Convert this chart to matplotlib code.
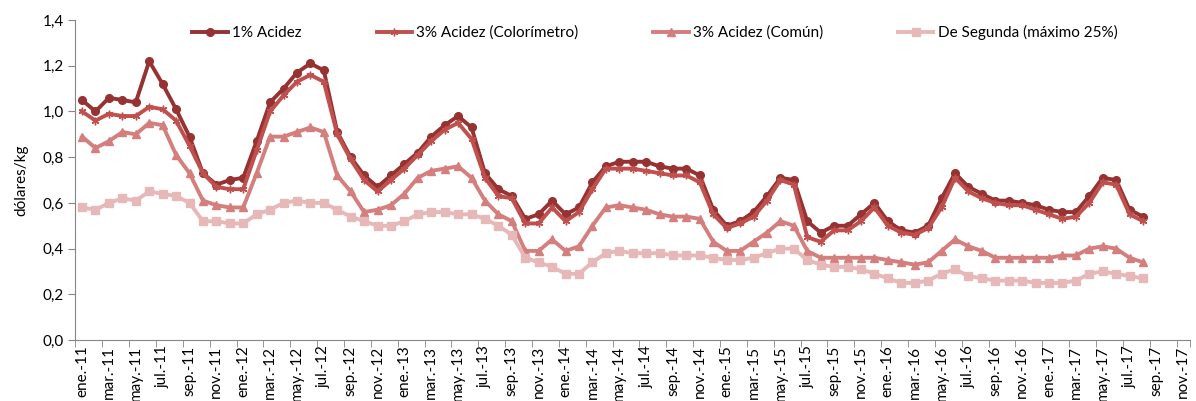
import matplotlib
matplotlib.use("Agg")
import matplotlib.pyplot as plt
from matplotlib.ticker import FuncFormatter, MultipleLocator, FixedLocator

plt.rcParams["font.family"] = ["Lato", "DejaVu Sans"]

# ── data (USD/kg, monthly, ene-2011 .. ago-2017) ──────────────
meses = ["ene.", "feb.", "mar.", "abr.", "may.", "jun.",
         "jul.", "ago.", "sep.", "oct.", "nov.", "dic."]
anios = ["11", "12", "13", "14", "15", "16", "17"]
categorias = [f"{m}-{a}" for a in anios for m in meses][:83]   # axis runs to nov.-17

acidez_1 = [1.05, 1.00, 1.06, 1.05, 1.04, 1.22, 1.12, 1.01, 0.89, 0.73, 0.68, 0.70,
            0.71, 0.87, 1.04, 1.10, 1.17, 1.21, 1.18, 0.91, 0.80, 0.72, 0.67, 0.72,
            0.77, 0.82, 0.89, 0.94, 0.98, 0.93, 0.73, 0.66, 0.63, 0.53, 0.55, 0.61,
            0.55, 0.58, 0.69, 0.76, 0.78, 0.78, 0.78, 0.76, 0.75, 0.75, 0.72, 0.57,
            0.50, 0.52, 0.56, 0.63, 0.71, 0.70, 0.52, 0.47, 0.50, 0.50, 0.55, 0.60,
            0.52, 0.48, 0.47, 0.50, 0.62, 0.73, 0.67, 0.64, 0.61, 0.61, 0.60, 0.59,
            0.57, 0.56, 0.56, 0.63, 0.71, 0.70, 0.57, 0.54]
acidez_3_color = [1.00, 0.96, 0.99, 0.98, 0.98, 1.02, 1.01, 0.96, 0.85, 0.73, 0.67, 0.66,
                  0.66, 0.83, 1.00, 1.07, 1.13, 1.16, 1.13, 0.90, 0.79, 0.70, 0.65, 0.70,
                  0.75, 0.81, 0.87, 0.92, 0.95, 0.88, 0.71, 0.63, 0.62, 0.51, 0.51, 0.58,
                  0.52, 0.56, 0.66, 0.75, 0.75, 0.75, 0.74, 0.73, 0.72, 0.72, 0.69, 0.55,
                  0.49, 0.51, 0.54, 0.61, 0.70, 0.68, 0.45, 0.43, 0.48, 0.48, 0.52, 0.58,
                  0.50, 0.47, 0.46, 0.49, 0.58, 0.71, 0.65, 0.62, 0.60, 0.59, 0.59, 0.57,
                  0.55, 0.53, 0.54, 0.60, 0.69, 0.68, 0.55, 0.52]
acidez_3_comun = [0.89, 0.84, 0.87, 0.91, 0.90, 0.95, 0.94, 0.81, 0.73, 0.61, 0.59, 0.58,
                  0.58, 0.73, 0.89, 0.89, 0.91, 0.93, 0.91, 0.72, 0.65, 0.56, 0.57, 0.59,
                  0.64, 0.71, 0.74, 0.75, 0.76, 0.71, 0.61, 0.55, 0.52, 0.39, 0.39, 0.44,
                  0.39, 0.41, 0.50, 0.58, 0.59, 0.58, 0.57, 0.55, 0.54, 0.54, 0.53, 0.43,
                  0.39, 0.39, 0.43, 0.47, 0.52, 0.50, 0.39, 0.36, 0.36, 0.36, 0.36, 0.36,
                  0.35, 0.34, 0.33, 0.34, 0.39, 0.44, 0.41, 0.39, 0.36, 0.36, 0.36, 0.36,
                  0.36, 0.37, 0.37, 0.40, 0.41, 0.40, 0.36, 0.34]
de_segunda = [0.58, 0.57, 0.60, 0.62, 0.61, 0.65, 0.64, 0.63, 0.60, 0.52, 0.52, 0.51,
              0.51, 0.55, 0.57, 0.60, 0.61, 0.60, 0.60, 0.57, 0.54, 0.52, 0.50, 0.50,
              0.52, 0.55, 0.56, 0.56, 0.55, 0.55, 0.53, 0.50, 0.46, 0.36, 0.34, 0.32,
              0.29, 0.29, 0.34, 0.38, 0.39, 0.38, 0.38, 0.38, 0.37, 0.37, 0.37, 0.36,
              0.35, 0.35, 0.36, 0.38, 0.40, 0.40, 0.35, 0.33, 0.32, 0.32, 0.31, 0.29,
              0.27, 0.25, 0.25, 0.26, 0.29, 0.31, 0.28, 0.27, 0.26, 0.26, 0.26, 0.25,
              0.25, 0.25, 0.26, 0.29, 0.30, 0.29, 0.28, 0.27]

series = [
    ("1% Acidez",                 acidez_1,       "#963232", "o"),
    ("3% Acidez (Colorímetro)",   acidez_3_color, "#C0504D", (6, 2, 0)),
    ("3% Acidez (Común)",         acidez_3_comun, "#D47F7D", "^"),
    ("De Segunda (máximo 25%)",   de_segunda,     "#E6B9B8", "s"),
]

# ── figure ────────────────────────────────────
fig = plt.figure(figsize=(11.96, 4.01), dpi=100)
ax = fig.add_axes([0.063, 0.152, 0.932, 0.798])

x = list(range(len(acidez_1)))
for label, vals, color, mk in series:
    ax.plot(x, vals, color=color, linewidth=2.8, marker=mk, markersize=5.5,
            markeredgecolor=color, markerfacecolor=color, label=label)

ax.set_xlim(-0.5, len(categorias) - 0.5)
ax.set_ylim(0, 1.4)
ax.yaxis.set_major_locator(MultipleLocator(0.2))
ax.yaxis.set_major_formatter(FuncFormatter(lambda v, _: f"{v:.1f}".replace(".", ",")))

# labels on every other category, tick marks on category boundaries
pos = list(range(0, len(categorias), 2))
ax.xaxis.set_major_locator(FixedLocator(pos))
ax.set_xticklabels([categorias[i] for i in pos], rotation=90, fontsize=11)
ax.xaxis.set_minor_locator(FixedLocator([p - 0.5 for p in pos] + [len(categorias) - 0.5]))
ax.tick_params(axis="x", which="major", length=0, pad=4)
ax.tick_params(axis="x", which="minor", length=5, color="#868686")
ax.tick_params(axis="y", length=5, color="#868686", labelsize=11)

for s in ("top", "right"):
    ax.spines[s].set_visible(False)
for s in ("left", "bottom"):
    ax.spines[s].set_color("#868686")

ax.set_ylabel("dólares/kg", fontsize=11, labelpad=10)

ax.legend(loc="upper left", bbox_to_anchor=(0.105, 0.985), ncol=4, frameon=False,
          fontsize=11, handlelength=2.3, handletextpad=0.3, columnspacing=4.9,
          borderpad=0, borderaxespad=0)

fig.savefig("out.png", dpi=100)
